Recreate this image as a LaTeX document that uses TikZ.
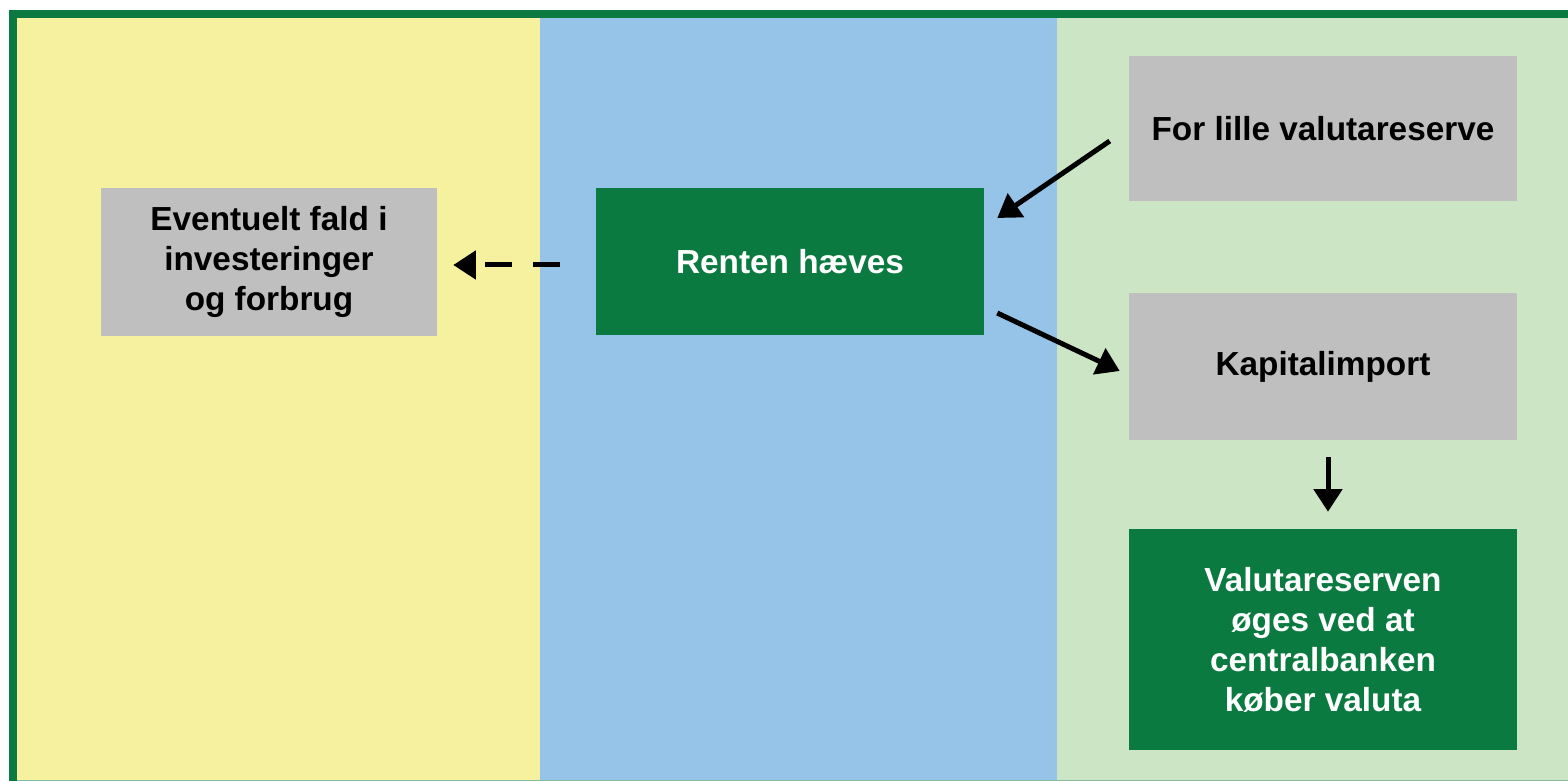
\documentclass[tikz,border=0pt]{standalone}
\usepackage{fontspec}
\setmainfont{Liberation Sans}
\usetikzlibrary{arrows.meta}
\definecolor{pyellow}{RGB}{245,241,158}
\definecolor{pblue}{RGB}{150,195,232}
\definecolor{pgreen}{RGB}{203,229,197}
\definecolor{dgreen}{RGB}{10,122,64}
\definecolor{boxgray}{RGB}{191,191,191}
\begin{document}
\begin{tikzpicture}[x=0.75pt,y=-0.75pt,
  txt/.style={font=\bfseries\fontsize{25}{30}\selectfont, align=center, inner sep=0pt},
  graybox/.style={txt, fill=boxgray, text=black},
  greenbox/.style={txt, fill=dgreen, text=white},
  arr/.style={line width=3.75pt, -{Triangle[length=17pt,width=21pt]}},
  dasharr/.style={arr, dash pattern=on 20pt off 15.75pt}]
\useasboundingbox (0,0) rectangle (1568,781);
\fill[pyellow] (17,18) rectangle (540,781);
\fill[pblue] (540,18) rectangle (1057,781);
\fill[pgreen] (1057,18) rectangle (1568,781);
\draw[dgreen, line width=6pt] (13,781) -- (13,14) -- (1568,14);
\draw[dgreen!50, line width=1pt] (17,780.5) -- (1568,780.5);

\node[graybox, minimum width=252pt, minimum height=111pt] (ev) at (269,262)
  {Eventuelt fald i\\investeringer\\og forbrug};
\node[greenbox, minimum width=291pt, minimum height=110.25pt] (renten) at (790,261.5)
  {Renten hæves};
\node[graybox, minimum width=291pt, minimum height=108.75pt] (forlille) at (1323,128.5)
  {For lille valutareserve};
\node[graybox, minimum width=291pt, minimum height=110.25pt] (kapital) at (1323,366.5)
  {Kapitalimport};
\node[greenbox, minimum width=291pt, minimum height=165.75pt] (valuta) at (1323,639.5)
  {Valutareserven\\øges ved at\\centralbanken\\køber valuta};

\draw[arr] ([shift={(-19,12.5)}]forlille.west) -- ([shift={(13,-43.5)}]renten.east);
\draw[arr] ([shift={(13,51.5)}]renten.east) -- ([shift={(-9,4.5)}]kapital.west);
\draw[arr] ([shift={(5,17)}]kapital.south) -- ([shift={(5,-17)}]valuta.north);
\draw[dasharr] ([shift={(-36,3.5)}]renten.west) -- ([shift={(16,3)}]ev.east);
\end{tikzpicture}
\end{document}
